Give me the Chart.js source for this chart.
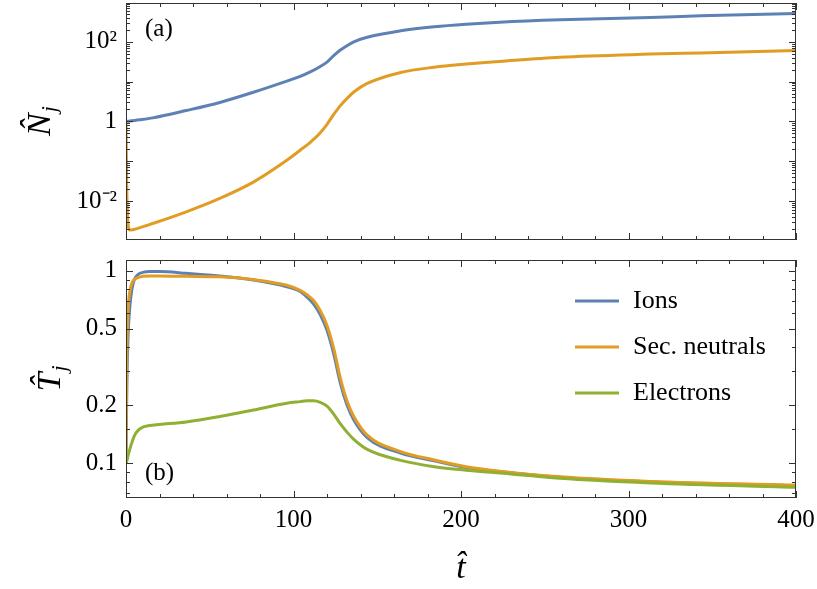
<!DOCTYPE html>
<html>
<head>
<meta charset="utf-8">
<script src="https://cdn.jsdelivr.net/npm/chart.js@4.4.0/dist/chart.umd.min.js"></script>
<style>
  html, body { margin: 0; padding: 0; background: #fff; }
  #wrap { position: relative; width: 817px; height: 589px; }
  #topBox { position: absolute; left: 0; top: 0; }
  #bottomBox { position: absolute; left: 0; top: 245px; }
</style>
</head>
<body>
<div id="wrap">
  <div id="topBox"><canvas id="densityChart" width="817" height="245"></canvas></div>
  <div id="bottomBox"><canvas id="tempChart" width="817" height="344"></canvas></div>
</div>
<script>
// Panel (a): densities
const tDensity = [0, 0.4, 1, 2.4, 8, 16, 36, 56, 76, 96, 104, 110, 116, 120, 124, 128, 132, 136, 144, 164, 184, 203, 223, 259, 313, 343, 400];
const ionsDensity = [1.0, 1.0, 1.01, 1.03, 1.1, 1.23, 1.88, 3.0, 5.4, 10.3, 13.5, 17.5, 24, 31, 45, 62, 80, 100, 130, 188, 237, 275, 309, 355, 407, 447, 513];
const neutralsDensity = [1.0, 0.03, 0.0035, 0.00188, 0.00214, 0.00275, 0.0054, 0.0117, 0.030, 0.106, 0.19, 0.30, 0.52, 0.85, 1.5, 2.5, 3.8, 5.5, 9.0, 17, 23, 27.5, 32, 41, 49, 52.5, 60];

// Panel (b): temperatures
const tTemp = [0, 0.5, 1, 1.5, 2.5, 3.5, 5, 7.5, 10, 14, 20, 36, 56, 76, 96, 104, 108, 112, 116, 120, 124, 128, 132, 136, 144, 164, 184, 203, 223, 259, 313, 400];
const ionsTemp = [0.1, 0.25, 0.4, 0.52, 0.68, 0.8, 0.9, 0.96, 0.98, 0.99, 0.99, 0.97, 0.94, 0.895, 0.826, 0.78, 0.73, 0.67, 0.59, 0.49, 0.37, 0.26, 0.2, 0.168, 0.136, 0.113, 0.103, 0.095, 0.0905, 0.0845, 0.08, 0.0765];
const neutralsTemp = [0.1, 0.35, 0.55, 0.68, 0.8, 0.86, 0.9, 0.925, 0.935, 0.94, 0.94, 0.935, 0.93, 0.9, 0.84, 0.79, 0.75, 0.7, 0.62, 0.52, 0.395, 0.276, 0.21, 0.175, 0.14, 0.115, 0.104, 0.096, 0.091, 0.085, 0.0805, 0.077];
const electronsTemp = [0.1, 0.103, 0.107, 0.112, 0.12, 0.128, 0.139, 0.149, 0.154, 0.157, 0.159, 0.164, 0.175, 0.189, 0.205, 0.209, 0.211, 0.211, 0.207, 0.198, 0.18, 0.16, 0.145, 0.133, 0.118, 0.1035, 0.096, 0.092, 0.089, 0.0835, 0.079, 0.075];

// Tick values
const xMajor = [0, 100, 200, 300, 400];
const densityLabelTicks = [0.01, 1, 100];
const densityLabelText = ['10\u207B\u00B2', '1', '10\u00B2'];
const densityMajor = [0.001, 0.01, 0.1, 1, 10, 100];
const tempLabelTicks = [0.1, 0.2, 0.5, 1];
const tempMinor = [0.07, 0.08, 0.09, 0.15, 0.3, 0.4, 0.6, 0.7, 0.8, 0.9];

const FONT = '"Liberation Serif", "Times New Roman", serif';
const COLORS = { ions: '#5E81B5', neutrals: '#E19C24', electrons: '#8FB032' };

function toPoints(ts, vs) {
    return ts.map((t, i) => ({ x: t, y: vs[i] }));
}

function lineSet(label, ts, vs, color, order) {
    return {
        label: label,
        data: toPoints(ts, vs),
        borderColor: color,
        backgroundColor: color,
        borderWidth: 3,
        pointRadius: 0,
        cubicInterpolationMode: 'monotone',
        order: order
    };
}

// decade minor ticks (2..9 x 10^k)
function logMinors(decades) {
    const out = [];
    decades.forEach(d => {
        for (let m = 2; m <= 9; m++) out.push(m * d);
    });
    return out;
}

// Frame with inward ticks on all four sides, plus panel text
const framePlugin = {
    id: 'frame',
    afterDatasetsDraw(chart, args, opts) {
        const { ctx, chartArea: a, scales: { x, y } } = chart;
        ctx.save();
        ctx.strokeStyle = '#333';
        ctx.lineWidth = 1;
        ctx.strokeRect(a.left + 0.5, a.top + 0.5, a.width - 1, a.height - 1);

        ctx.beginPath();
        for (let t = 0; t <= 400; t += 20) {
            const px = Math.round(x.getPixelForValue(t)) + 0.5;
            const len = xMajor.includes(t) ? 7 : 4;
            ctx.moveTo(px, a.top); ctx.lineTo(px, a.top + len);
            ctx.moveTo(px, a.bottom); ctx.lineTo(px, a.bottom - len);
        }
        const yTick = (v, len) => {
            if (v < y.min || v > y.max) return;
            const py = Math.round(y.getPixelForValue(v)) + 0.5;
            ctx.moveTo(a.left, py); ctx.lineTo(a.left + len, py);
            ctx.moveTo(a.right, py); ctx.lineTo(a.right - len, py);
        };
        opts.major.forEach(v => yTick(v, 7));
        opts.minor.forEach(v => yTick(v, 4));
        ctx.stroke();

        // panel label
        ctx.fillStyle = '#000';
        ctx.font = '25px ' + FONT;
        ctx.textBaseline = 'middle';
        ctx.textAlign = 'left';
        const ly = opts.labelAtTop ? a.top + 26 : a.bottom - 25;
        ctx.fillText(opts.panel, a.left + 19, ly);

        // rotated y title with subscript
        const cy = (a.top + a.bottom) / 2;
        ctx.translate(opts.titleX, cy);
        ctx.rotate(-Math.PI / 2);
        ctx.font = 'italic 34px ' + FONT;
        ctx.textBaseline = 'alphabetic';
        const mainW = ctx.measureText(opts.title).width;
        ctx.font = 'italic 22px ' + FONT;
        const subW = ctx.measureText('j').width;
        const start = -(mainW + subW) / 2;
        ctx.font = 'italic 34px ' + FONT;
        ctx.fillText(opts.title, start, 0);
        ctx.font = 'italic 22px ' + FONT;
        ctx.fillText('j', start + mainW + 1, 6);
        ctx.restore();
    }
};

// Legend drawn inside the plot area of panel (b)
const insetLegend = {
    id: 'insetLegend',
    afterDraw(chart, args, opts) {
        if (!opts.show) return;
        const { ctx, chartArea: a } = chart;
        ctx.save();
        ctx.font = '26px ' + FONT;
        ctx.textBaseline = 'middle';
        ctx.fillStyle = '#000';
        chart.data.datasets.forEach((ds, i) => {
            const yy = a.top + 41 + i * 46;
            ctx.strokeStyle = ds.borderColor;
            ctx.lineWidth = 3;
            ctx.beginPath();
            ctx.moveTo(a.left + 449, yy);
            ctx.lineTo(a.left + 493, yy);
            ctx.stroke();
            ctx.fillText(ds.label, a.left + 507, yy);
        });
        ctx.restore();
    }
};

function buildOptions(cfg) {
    return {
        responsive: false,
        animation: false,
        layout: { padding: { top: cfg.padTop, right: 21, left: 0, bottom: 0 } },
        plugins: {
            legend: { display: false },
            tooltip: { enabled: false },
            frame: cfg.frame,
            insetLegend: { show: cfg.legend }
        },
        scales: {
            x: {
                type: 'linear',
                min: 0,
                max: 400,
                grid: { display: false, drawTicks: false },
                border: { display: false },
                afterBuildTicks: s => { s.ticks = xMajor.map(v => ({ value: v })); },
                ticks: {
                    display: cfg.xLabels,
                    padding: 7,
                    maxRotation: 0,
                    color: '#000',
                    font: { family: FONT, size: 25 }
                },
                title: {
                    display: cfg.xLabels,
                    text: 't\u0302',
                    color: '#000',
                    padding: { top: 0, bottom: 0 },
                    font: { family: FONT, size: 34, style: 'italic' }
                },
                afterFit: s => {
                    s.height = cfg.xHeight;
                    s.paddingLeft = 0;
                    s.paddingRight = 0;
                }
            },
            y: {
                type: 'logarithmic',
                min: cfg.yMin,
                max: cfg.yMax,
                grid: { display: false, drawTicks: false },
                border: { display: false },
                afterBuildTicks: s => { s.ticks = cfg.yTicks.map(v => ({ value: v })); },
                ticks: {
                    padding: 9,
                    color: '#000',
                    font: { family: FONT, size: 25 },
                    callback: cfg.yFormat
                },
                afterFit: s => {
                    s.width = 126;
                    s.paddingTop = 0;
                    s.paddingBottom = 0;
                }
            }
        }
    };
}

new Chart(document.getElementById('densityChart'), {
    type: 'line',
    data: {
        datasets: [
            lineSet('Ions', tDensity, ionsDensity, COLORS.ions, 2),
            lineSet('Sec. neutrals', tDensity, neutralsDensity, COLORS.neutrals, 1)
        ]
    },
    options: buildOptions({
        padTop: 3,
        xHeight: 5,
        xLabels: false,
        yMin: 0.00106,
        yMax: 940,
        yTicks: densityLabelTicks,
        yFormat: v => densityLabelText[densityLabelTicks.indexOf(v)] || '',
        legend: false,
        frame: {
            major: densityMajor,
            minor: logMinors([0.001, 0.01, 0.1, 1, 10, 100]),
            panel: '(a)',
            labelAtTop: true,
            title: 'N\u0302',
            titleX: 50
        }
    }),
    plugins: [framePlugin, insetLegend]
});

new Chart(document.getElementById('tempChart'), {
    type: 'line',
    data: {
        datasets: [
            lineSet('Ions', tTemp, ionsTemp, COLORS.ions, 3),
            lineSet('Sec. neutrals', tTemp, neutralsTemp, COLORS.neutrals, 2),
            lineSet('Electrons', tTemp, electronsTemp, COLORS.electrons, 1)
        ]
    },
    options: buildOptions({
        padTop: 15,
        xHeight: 91,
        xLabels: true,
        yMin: 0.066,
        yMax: 1.137,
        yTicks: tempLabelTicks,
        yFormat: v => String(v),
        legend: true,
        frame: {
            major: tempLabelTicks,
            minor: tempMinor,
            panel: '(b)',
            labelAtTop: false,
            title: 'T\u0302',
            titleX: 60
        }
    }),
    plugins: [framePlugin, insetLegend]
});
</script>
</body>
</html>
